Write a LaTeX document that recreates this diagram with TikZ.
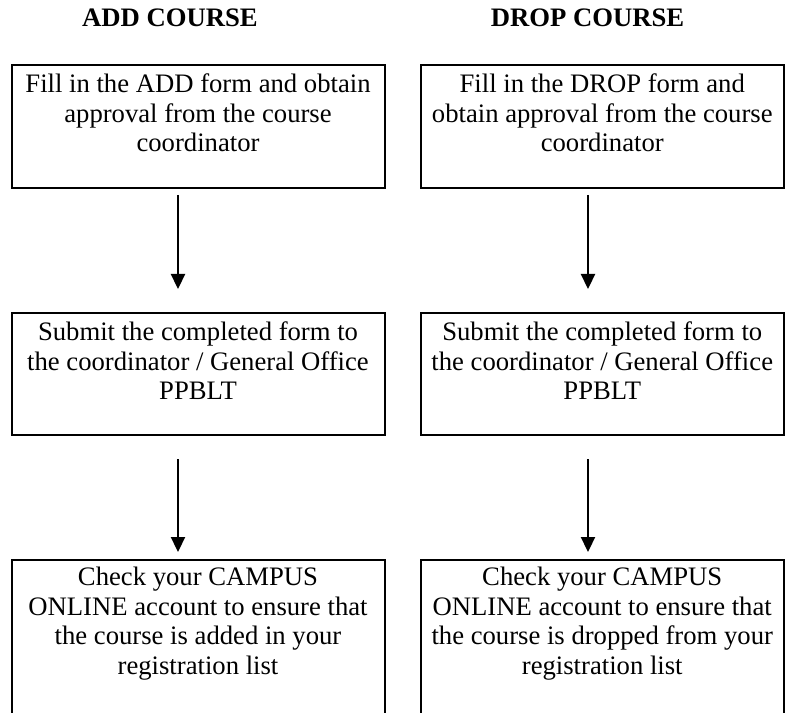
\documentclass[tikz,border=0pt]{standalone}
\usepackage{fontspec}
\setmainfont{Liberation Serif}
\usetikzlibrary{arrows.meta}
\begin{document}
\begin{tikzpicture}[x=0.75pt,y=-0.75pt,
  lbox/.style={draw, line width=1.5pt, rectangle, inner sep=0pt, minimum width=279.75pt},
  rbox/.style={draw, line width=1.5pt, rectangle, inner sep=0pt, minimum width=271.875pt},
  txt/.style={font=\fontsize{20}{22.1}\selectfont, align=center, inner sep=0pt, anchor=north},
  ttl/.style={font=\fontsize{20}{22}\selectfont\bfseries, inner sep=0pt, anchor=base},
  arr/.style={line width=1.7pt, -{Triangle[width=10.5pt,length=11.25pt]}}]
\useasboundingbox (0,0) rectangle (786,713);
\clip (0,0) rectangle (786,713);
% titles
\node[ttl] (tadd) at (170,27) {ADD COURSE};
\node[ttl] (tdrop) at (587.5,27) {DROP COURSE};
% boxes
\node[lbox, minimum height=92.25pt] (a1) at (198,126.5) {};
\node[lbox, minimum height=91.5pt] (a2) at (198,374) {};
\node[lbox, minimum height=150pt] (a3) at (198,660) {};
\node[rbox, minimum height=92.25pt] (d1) at (602.25,126.5) {};
\node[rbox, minimum height=91.5pt] (d2) at (602.25,374) {};
\node[rbox, minimum height=150pt] (d3) at (602.25,660) {};
% texts
\node[txt] (ta1) at ([yshift=-7.2pt]a1.north) {Fill in the ADD form and obtain\\approval from the course\\coordinator};
\node[txt] (ta2) at ([yshift=-7.2pt]a2.north) {Submit the completed form to\\the coordinator / General Office\\PPBLT};
\node[txt] (ta3) at ([yshift=-6.0pt]a3.north) {Check your CAMPUS\\ONLINE account to ensure that\\the course is added in your\\registration list};
\node[txt] (td1) at ([yshift=-7.2pt]d1.north) {Fill in the DROP form and\\obtain approval from the course\\coordinator};
\node[txt] (td2) at ([yshift=-7.2pt]d2.north) {Submit the completed form to\\the coordinator / General Office\\PPBLT};
\node[txt] (td3) at ([yshift=-6.0pt]d3.north) {Check your CAMPUS\\ONLINE account to ensure that\\the course is dropped from your\\registration list};
% arrows
\draw[arr] ([shift={(-20,6)}]a1.south) -- ([shift={(-20,-23)}]a2.north);
\draw[arr] ([shift={(-20,23)}]a2.south) -- ([shift={(-20,-7)}]a3.north);
\draw[arr] ([shift={(-14.25,6)}]d1.south) -- ([shift={(-14.25,-23)}]d2.north);
\draw[arr] ([shift={(-14.25,23)}]d2.south) -- ([shift={(-14.25,-7)}]d3.north);
\end{tikzpicture}
\end{document}
